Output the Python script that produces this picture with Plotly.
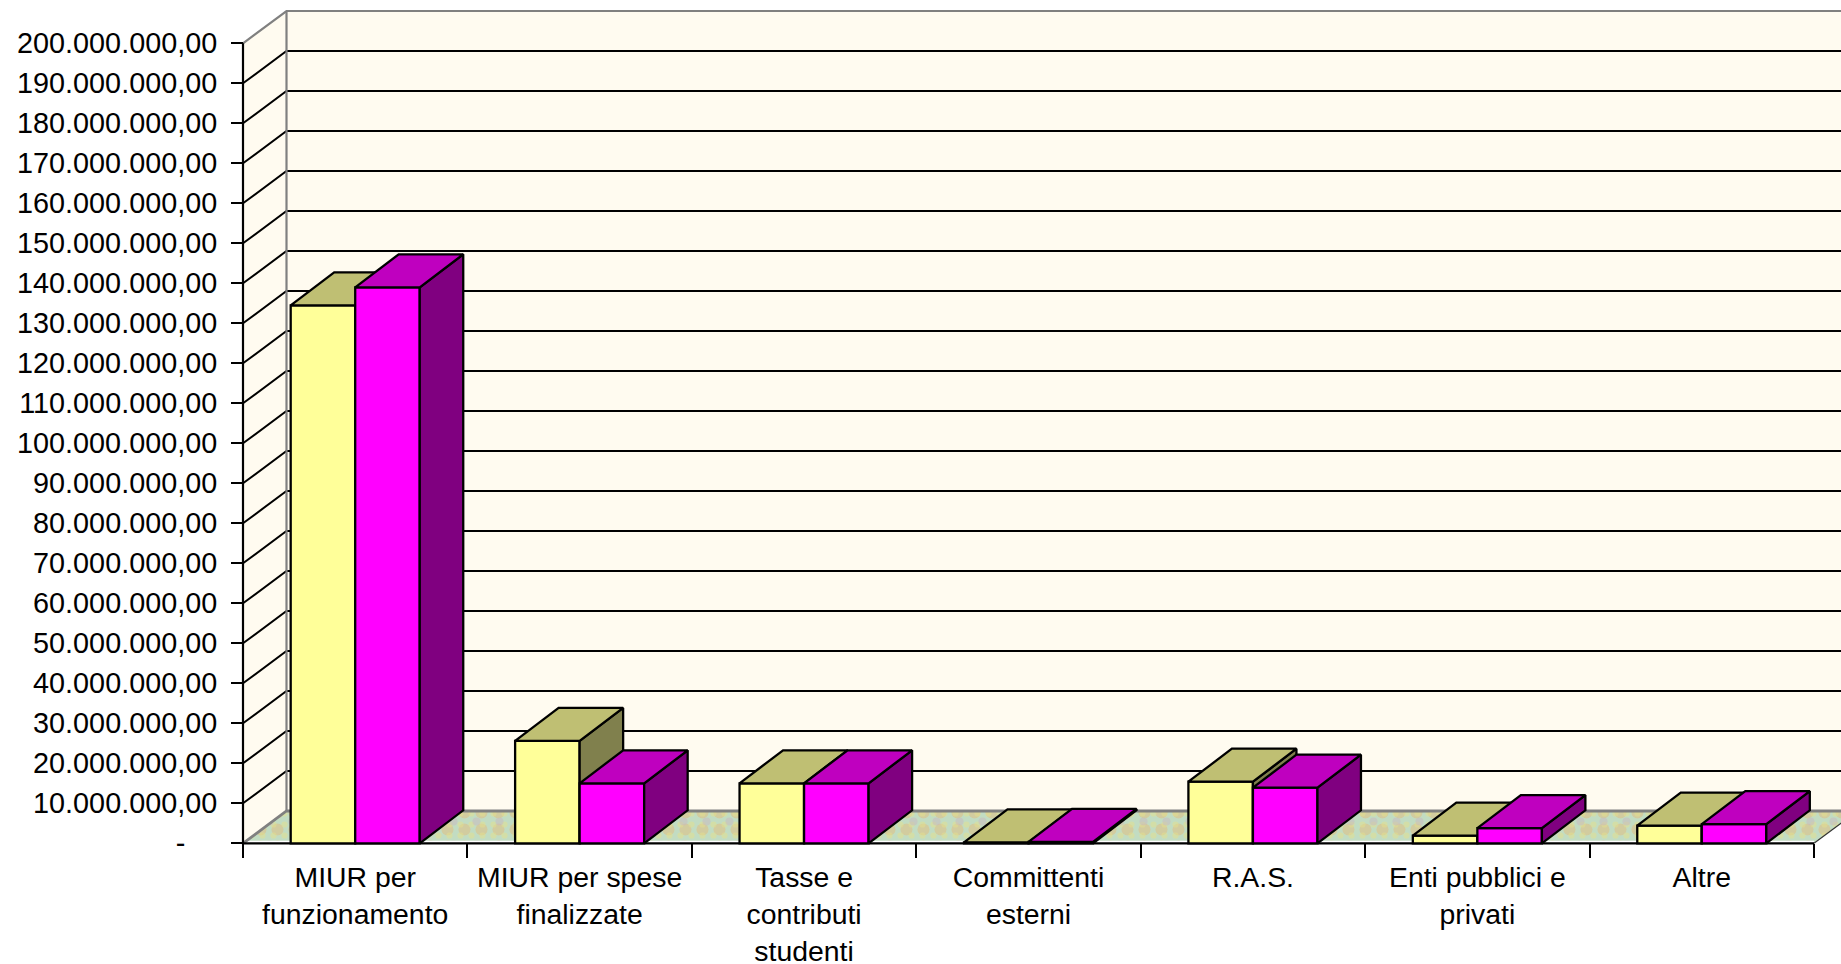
import plotly.graph_objects as go

categories = ["MIUR per<br>funzionamento", "MIUR per spese<br>finalizzate", "Tasse e<br>contributi<br>studenti",
              "Committenti<br>esterni", "R.A.S.", "Enti pubblici e<br>privati", "Altre"]
series_yellow = [134.5e6, 25.6e6, 15.0e6, 0.25e6, 15.4e6, 1.9e6, 4.4e6]
series_magenta = [139.0e6, 15.0e6, 15.0e6, 0.35e6, 13.9e6, 3.8e6, 4.8e6]
y_ticks = [v * 10_000_000 for v in range(21)]
y_labels = ["-\u00a0\u00a0\u00a0\u00a0"] + [f"{v}0.000.000,00" if v < 10 else f"{v//10}{v%10}0.000.000,00" for v in range(1, 21)]

# layout geometry: pixels of the front plane of the 3-D box
W, H = 1841, 964
L, R, T, B = 243, 1814, 43.3, 843.3
N = len(categories)
PX_X = (R - L) / N
PX_Y = (B - T) / 200e6
DX = 43.5 / PX_X                    # depth in category units
DY = 32.3 / PX_Y                    # depth in value units
BAR_DY = 33 / PX_Y
BAR_W = 0.2875
WALL_TOP = 200e6 + DY
LINE = 2.0

# the plotting area is a little larger than the box so nothing is clipped
PL, PT, PB = 235, 5, 851
X_RANGE = [-(L - PL) / PX_X, N + (W - R) / PX_X]
Y_RANGE = [-(PB - B) / PX_Y, (B - PT) / PX_Y]
X_END = X_RANGE[1] + 0.02

WALL = "#FFFBF0"
GREY = "#808080"
FACES_Y = ("#FFFF99", "#BFBF73", "#80804D")
FACES_M = ("#FF00FF", "#BF00BF", "#800080")


def poly(xs, ys, color, line_color=None, width=0, xa="x", ya="y", pattern=None):
    return go.Scatter(x=xs, y=ys, mode="lines", fill="toself", fillcolor=color,
                      fillpattern=pattern, line=dict(color=line_color or "rgba(0,0,0,0)", width=width),
                      xaxis=xa, yaxis=ya, hoverinfo="skip", showlegend=False)


def lines(xs, ys, color, width):
    return go.Scatter(x=xs, y=ys, mode="lines", line=dict(color=color, width=width),
                      hoverinfo="skip", showlegend=False)


fig = go.Figure()

# walls
fig.add_trace(poly([DX, X_END, X_END, DX, DX], [DY, DY, WALL_TOP, WALL_TOP, DY], WALL))
fig.add_trace(poly([0, DX, DX, 0, 0], [0, DY, WALL_TOP, 200e6, 0], WALL))

# floor: pale green with mottled gold, yellow and mauve
fx = [0, N, N + DX, DX, 0]
fy = [0, 0, DY, DY, 0]
clear = "rgba(0,0,0,0)"
fig.add_trace(poly(fx, fy, "#C2DCC2"))
fig.add_trace(poly(fx, fy, clear, pattern=dict(shape=".", fgcolor="#E2BC7C", bgcolor=clear, size=17, solidity=0.4)))
fig.add_trace(poly(fx, fy, clear, pattern=dict(shape=".", fgcolor="#E4E08C", bgcolor=clear, size=11, solidity=0.25)))
fig.add_trace(poly(fx, fy, clear, pattern=dict(shape=".", fgcolor="#C8B8C0", bgcolor=clear, size=23, solidity=0.1)))
fig.add_trace(lines([0, N], [0.25e6, 0.25e6], "#FFFFFF", 3))

# gridlines on the back and left walls
gx, gy = [], []
for v in y_ticks[1:-1]:
    gx += [0, DX, X_END, None]
    gy += [v, v + DY, v + DY, None]
fig.add_trace(lines(gx, gy, "#000000", LINE))

# box edges and axis lines
fig.add_trace(lines([X_END, DX, 0], [WALL_TOP, WALL_TOP, 200e6], GREY, 2.2))
fig.add_trace(lines([DX, DX], [DY, WALL_TOP], GREY, 2.2))
fig.add_trace(lines([0, DX, X_END], [0, DY, DY], GREY, 2.8))
fig.add_trace(lines([N, N + DX], [0, DY], "#333333", 1.2))
fig.add_trace(lines([0, 0, N], [200e6, 0, 0], "#000000", 2.2))


def add_series(values, left_offset, faces, name, xa, ya):
    front, top, side = faces
    centers = [i + 0.5 for i in range(N)]
    fig.add_trace(go.Bar(x=centers, y=values, width=BAR_W, offset=left_offset, name=name,
                         marker=dict(color=front, line=dict(color="#000000", width=LINE + 0.3)),
                         xaxis=xa, yaxis=ya, showlegend=False))
    tx, ty, sx, sy = [], [], [], []
    for c, v in zip(centers, values):
        a = c + left_offset
        b = a + BAR_W
        tx += [a, b, b + DX, a + DX, a, None]
        ty += [v, v, v + BAR_DY, v + BAR_DY, v, None]
        sx += [b, b + DX, b + DX, b, b, None]
        sy += [0, BAR_DY, v + BAR_DY, v, 0, None]
    fig.add_trace(poly(sx, sy, side, "#000000", LINE + 0.3, xa, ya))
    fig.add_trace(poly(tx, ty, top, "#000000", LINE + 0.3, xa, ya))


add_series(series_yellow, -BAR_W, FACES_Y, "Yellow", "x2", "y2")
add_series(series_magenta, 0, FACES_M, "Magenta", "x3", "y3")

font = dict(family="Liberation Sans, Arial, sans-serif", size=28.8, color="#000000")
xfont = dict(font, size=28.4)
hidden_x = dict(range=X_RANGE, overlaying="x", visible=False, fixedrange=True, automargin=False)
hidden_y = dict(range=Y_RANGE, overlaying="y", visible=False, fixedrange=True, automargin=False)

fig.update_layout(
    width=W, height=H, autosize=False,
    margin=dict(l=PL, r=0, t=PT, b=H - PB, pad=0),
    paper_bgcolor="#FFFFFF", plot_bgcolor="rgba(0,0,0,0)",
    font=font, barmode="overlay", showlegend=False,
    xaxis=dict(range=X_RANGE, tickmode="array", tickvals=[i + 0.5 for i in range(N)], ticktext=categories,
               ticks="", showgrid=False, zeroline=False, showline=False, automargin=False,
               anchor="free", position=(PB - B) / (PB - PT),
               tickangle=0, tickfont=xfont, fixedrange=True, ticklabelstandoff=14,
               minor=dict(tickmode="array", tickvals=list(range(N + 1)), ticks="outside", ticklen=14,
                          tickwidth=2, tickcolor="#000000", showgrid=False)),
    yaxis=dict(range=Y_RANGE, tickmode="array", tickvals=y_ticks, ticktext=y_labels, ticks="outside",
               ticklen=12, tickwidth=2, tickcolor="#000000", showgrid=False, zeroline=False, showline=False,
               automargin=False, anchor="free", position=(L - PL) / (W - PL),
               tickfont=font, fixedrange=True, ticklabelstandoff=8),
    xaxis2=hidden_x, yaxis2=hidden_y,
    xaxis3=hidden_x, yaxis3=hidden_y,
)

fig.write_html("out.html", config=dict(displayModeBar=False),
               post_script="document.body.style.margin='0';document.body.style.overflow='hidden';")
